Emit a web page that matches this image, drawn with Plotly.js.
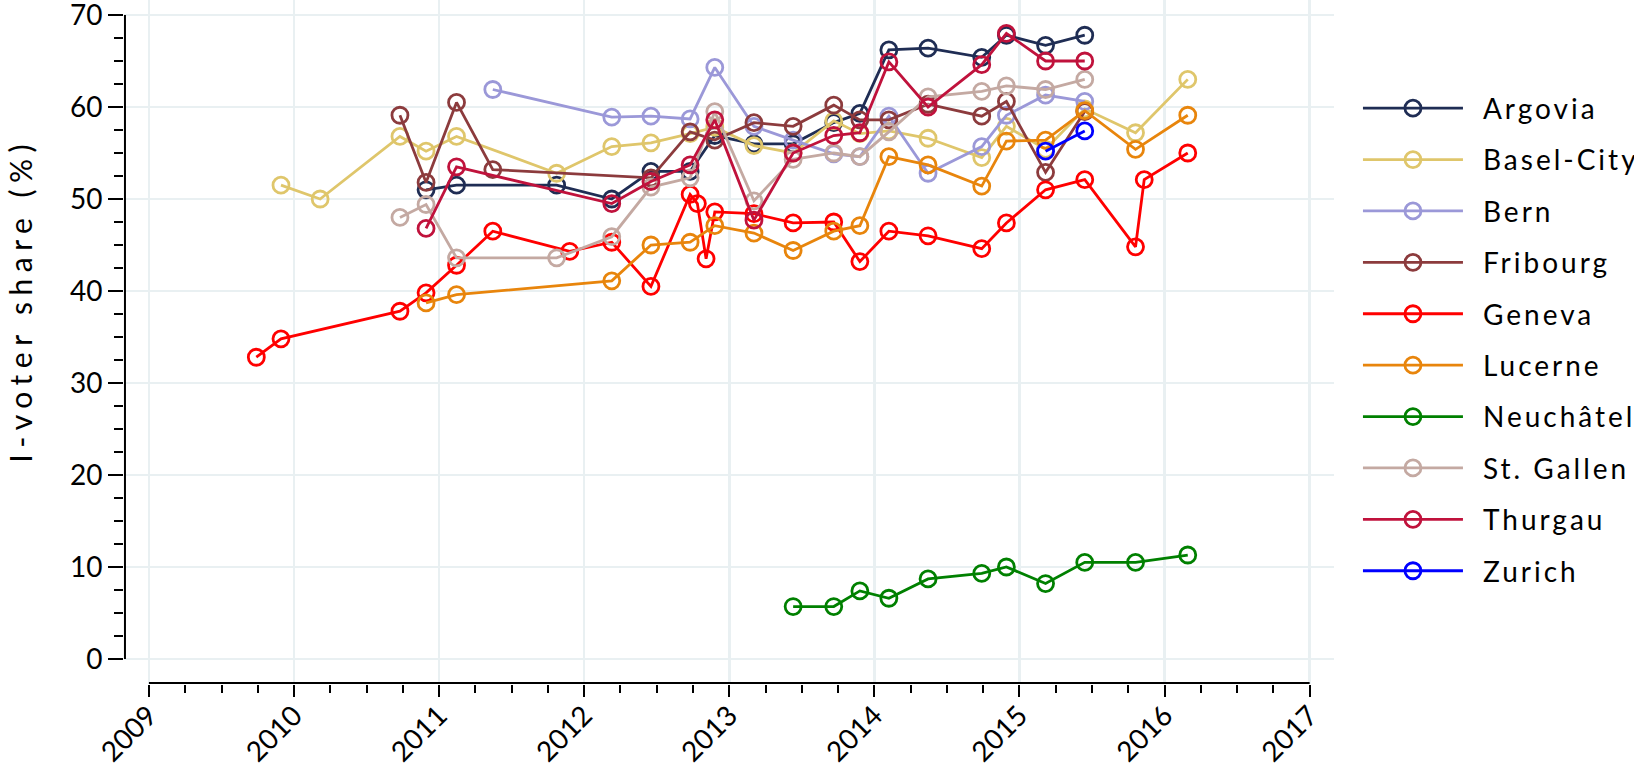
<!DOCTYPE html>
<html>
<head>
<meta charset="utf-8">
<script src="https://cdn.plot.ly/plotly-3.0.1.min.js"></script>
<style>
html, body { margin: 0; padding: 0; background: #ffffff; }
#chart { width: 1634px; height: 765px; }
.legendtext { letter-spacing: 3px; }
.annotation-text { letter-spacing: 6.5px; }
</style>
</head>
<body>
<div id="chart"></div>
<script>
// ---- Data (decimal years, I-voter share in %) ----
const cantons = ["Argovia", "Basel-City", "Bern", "Fribourg", "Geneva", "Lucerne", "Neuchâtel", "St. Gallen", "Thurgau", "Zurich"];
const cantonColors = ["#1f2d54", "#dfc66b", "#9b98d8", "#8c3b3d", "#ff0000", "#e8850c", "#008000", "#c4a9a2", "#c0123c", "#0000ff"];

const argoviaDates = [2010.91, 2011.12, 2011.81, 2012.19, 2012.46, 2012.73, 2012.90, 2013.17, 2013.44, 2013.72, 2013.90, 2014.10, 2014.37, 2014.74, 2014.91, 2015.18, 2015.45];
const argoviaShare = [51.0, 51.5, 51.5, 50.0, 53.0, 53.0, 56.9, 56.0, 56.0, 58.3, 59.3, 66.2, 66.4, 65.4, 67.8, 66.7, 67.8];

const baselDates = [2009.91, 2010.18, 2010.73, 2010.91, 2011.12, 2011.81, 2012.19, 2012.46, 2012.73, 2012.90, 2013.17, 2013.44, 2013.72, 2013.90, 2014.10, 2014.37, 2014.74, 2014.91, 2015.18, 2015.45, 2015.80, 2016.16];
const baselShare = [51.5, 50.0, 56.8, 55.2, 56.8, 52.8, 55.7, 56.1, 57.1, 57.8, 55.8, 55.0, 58.5, 57.1, 57.4, 56.6, 54.5, 57.9, 55.4, 59.8, 57.2, 63.0];

const bernDates = [2011.37, 2012.19, 2012.46, 2012.73, 2012.90, 2013.17, 2013.44, 2013.72, 2013.90, 2014.10, 2014.37, 2014.74, 2014.91, 2015.18, 2015.45];
const bernShare = [61.9, 58.9, 59.0, 58.7, 64.3, 57.9, 56.4, 54.9, 54.6, 59.0, 52.8, 55.7, 59.1, 61.3, 60.6];

const fribourgDates = [2010.73, 2010.91, 2011.12, 2011.37, 2012.46, 2012.73, 2012.90, 2013.17, 2013.44, 2013.72, 2013.90, 2014.10, 2014.37, 2014.74, 2014.91, 2015.18, 2015.45];
const fribourgShare = [59.1, 51.8, 60.5, 53.2, 52.3, 57.3, 56.4, 58.3, 57.9, 60.2, 58.6, 58.6, 60.3, 59.0, 60.6, 52.9, 59.5];

const genevaDates = [2009.74, 2009.91, 2010.73, 2010.91, 2011.12, 2011.37, 2011.90, 2012.19, 2012.46, 2012.73, 2012.78, 2012.84, 2012.90, 2013.17, 2013.44, 2013.72, 2013.90, 2014.10, 2014.37, 2014.74, 2014.91, 2015.18, 2015.45, 2015.80, 2015.86, 2016.16];
const genevaShare = [32.8, 34.8, 37.8, 39.8, 42.8, 46.5, 44.3, 45.3, 40.5, 50.5, 49.5, 43.5, 48.6, 48.4, 47.4, 47.5, 43.2, 46.5, 46.0, 44.6, 47.4, 51.0, 52.1, 44.8, 52.1, 55.0];

const lucerneDates = [2010.91, 2011.12, 2012.19, 2012.46, 2012.73, 2012.90, 2013.17, 2013.44, 2013.72, 2013.90, 2014.10, 2014.37, 2014.74, 2014.91, 2015.18, 2015.45, 2015.80, 2016.16];
const lucerneShare = [38.7, 39.6, 41.1, 45.0, 45.3, 47.1, 46.3, 44.4, 46.5, 47.1, 54.6, 53.7, 51.4, 56.3, 56.4, 59.6, 55.4, 59.1];

const neuchatelDates = [2013.44, 2013.72, 2013.90, 2014.10, 2014.37, 2014.74, 2014.91, 2015.18, 2015.45, 2015.80, 2016.16];
const neuchatelShare = [5.7, 5.7, 7.4, 6.6, 8.7, 9.3, 10.0, 8.2, 10.5, 10.5, 11.3];

const stGallenDates = [2010.73, 2010.91, 2011.12, 2011.81, 2012.19, 2012.46, 2012.73, 2012.90, 2013.17, 2013.44, 2013.72, 2013.90, 2014.10, 2014.37, 2014.74, 2014.91, 2015.18, 2015.45];
const stGallenShare = [48.0, 49.4, 43.6, 43.6, 45.9, 51.3, 52.3, 59.5, 49.8, 54.3, 55.0, 54.6, 57.3, 61.1, 61.7, 62.3, 61.9, 63.0];

const thurgauDates = [2010.91, 2011.12, 2012.19, 2012.46, 2012.73, 2012.90, 2013.17, 2013.44, 2013.72, 2013.90, 2014.10, 2014.37, 2014.74, 2014.91, 2015.18, 2015.45];
const thurgauShare = [46.8, 53.5, 49.5, 51.9, 53.7, 58.6, 47.7, 55.0, 56.9, 57.2, 64.9, 60.0, 64.6, 68.0, 65.0, 65.0];

const zurichDates = [2015.18, 2015.45];
const zurichShare = [55.2, 57.4];

const yearTicks = [2009, 2010, 2011, 2012, 2013, 2014, 2015, 2016, 2017];
const shareTicks = [0, 10, 20, 30, 40, 50, 60, 70];
const yTitle = "I-voter share (%)";

// ---- Build traces ----
const seriesDates = [argoviaDates, baselDates, bernDates, fribourgDates, genevaDates, lucerneDates, neuchatelDates, stGallenDates, thurgauDates, zurichDates];
const seriesShare = [argoviaShare, baselShare, bernShare, fribourgShare, genevaShare, lucerneShare, neuchatelShare, stGallenShare, thurgauShare, zurichShare];

const traces = cantons.map((name, i) => ({
  type: "scatter",
  mode: "lines+markers",
  name: name,
  legendgroup: name,
  x: seriesDates[i],
  y: seriesShare[i],
  line: { color: cantonColors[i], width: 2.8 },
  marker: { symbol: "circle-open", size: 16, color: cantonColors[i], line: { width: 2.8, color: cantonColors[i] } },
  cliponaxis: false
}));

const minorY = [];
for (let v = 2.5; v < 70; v += 2.5) { if (v % 10 !== 0) minorY.push(v); }
const minorX = [];
for (let v = 2009.25; v < 2017; v += 0.25) { if (Math.abs(v - Math.round(v)) > 1e-6) minorX.push(v); }

const font = "Lato, 'Open Sans', sans-serif";
const gridCol = "#e9f0f2";

const layout = {
  width: 1634,
  height: 765,
  margin: { l: 124, r: 300, t: 0, b: 81, pad: 0, autoexpand: false },
  paper_bgcolor: "#ffffff",
  plot_bgcolor: "#ffffff",
  font: { family: font, size: 28, color: "#000000" },
  showlegend: true,
  legend: {
    x: 1.0198, xanchor: "left",
    y: 0.878, yanchor: "top",
    font: { family: font, size: 28, color: "#000000" },
    itemwidth: 115,
    tracegroupgap: 12,
    bgcolor: "rgba(0,0,0,0)"
  },
  xaxis: {
    range: [2008.828, 2017.168],
    tickmode: "array", tickvals: yearTicks, ticktext: yearTicks.map(String),
    tickangle: -45,
    ticks: "outside", ticklen: 12, tickwidth: 2, tickcolor: "#000000",
    ticklabelstandoff: -9,
    ticklabeloverflow: "allow",
    showgrid: true, gridcolor: gridCol, gridwidth: 2.5,
    zeroline: false, showline: false,
    tickfont: { family: font, size: 28, color: "#000000" },
    minor: { tickmode: "array", tickvals: minorX, ticks: "outside", ticklen: 8, tickwidth: 2, tickcolor: "#000000", showgrid: false }
  },
  yaxis: {
    range: [-2.72, 71.63],
    tickmode: "array", tickvals: shareTicks, ticktext: shareTicks.map(String),
    ticks: "outside", ticklen: 15, tickwidth: 2, tickcolor: "#000000",
    ticklabeloverflow: "allow",
    showgrid: true, gridcolor: gridCol, gridwidth: 2.5,
    zeroline: false, showline: false,
    tickfont: { family: font, size: 28, color: "#000000" },
    minor: { tickmode: "array", tickvals: minorY, ticks: "outside", ticklen: 9, tickwidth: 2, tickcolor: "#000000", showgrid: false }
  },
  shapes: [
    { type: "line", xref: "x", yref: "paper", x0: 2009, x1: 2017, y0: 0.0015, y1: 0.0015, line: { color: "#000000", width: 2 } },
    { type: "line", xref: "paper", yref: "y", x0: 0.0008, x1: 0.0008, y0: 0, y1: 70, line: { color: "#000000", width: 2 } }
  ],
  annotations: [
    { text: yTitle, xref: "paper", yref: "y", x: -0.0855, y: 39, xanchor: "center", yanchor: "middle",
      textangle: -90, showarrow: false, font: { family: font, size: 30, color: "#000000" } }
  ],
  hovermode: false
};

Plotly.newPlot("chart", traces, layout, { staticPlot: true, responsive: false }).then(function (gd) {
  // lengthen legend sample lines and centre their markers on them
  gd.querySelectorAll(".legend .legendlines path").forEach(function (p) { p.setAttribute("d", "M5,0h100"); });
  gd.querySelectorAll(".legend .legendpoints path.scatterpts").forEach(function (p) { p.setAttribute("transform", "translate(55,0)"); });
});
</script>
</body>
</html>
